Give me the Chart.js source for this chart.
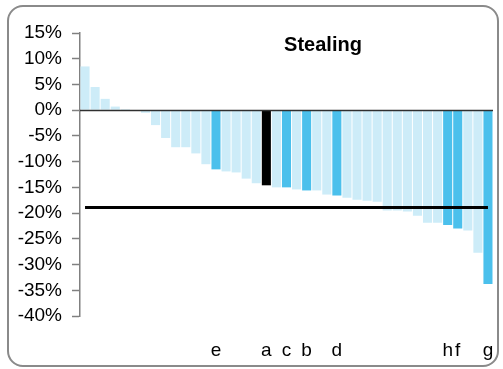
<!DOCTYPE html>
<html>
<head>
<meta charset="utf-8">
<script src="https://cdn.jsdelivr.net/npm/chart.js@4/dist/chart.umd.min.js"></script>
<style>
  html, body { margin:0; padding:0; background:#fff; overflow:hidden; }
  #frame { position:absolute; left:7px; top:5px; width:492px; height:362px; box-sizing:border-box;
           border:2px solid #8a8a8a; border-radius:16px; }
  #chart { position:absolute; left:0; top:0; }
</style>
</head>
<body>
<div id="frame"></div>
<canvas id="chart" width="503" height="369"></canvas>
<script>
// category labels: only the highlighted bars carry a letter
var labels = ['','','','','','','','','','','','','','e','','','','','a','','c','','b','','',
              'd','','','','','','','','','','','h','f','','','g'];
// change in %, sorted descending
var values = [8.5, 4.5, 2.2, 0.7, 0.2, 0, -0.5, -2.9, -5.4, -7.2, -7.2, -8.4, -10.5, -11.5, -11.9,
              -12.1, -13.3, -14.2, -14.6, -15.0, -15.0, -15.4, -15.6, -15.6, -16.4, -16.6, -17.0,
              -17.4, -17.6, -17.8, -19.5, -19.5, -19.7, -20.5, -21.9, -21.9, -22.3, -23.0, -23.4,
              -27.7, -33.8];
var highlight = [13, 20, 22, 25, 36, 37, 40];
var marked = [18];
var average = -18.9;
var titleText = 'Stealing';

(function(){
  var LIGHT = '#cdecf8', DARK = '#4bc0ec', FONT = '"Liberation Sans", Arial, sans-serif';

  var colors = values.map(function(v, i){
    if (marked.indexOf(i) >= 0) return '#000000';
    if (highlight.indexOf(i) >= 0) return DARK;
    return LIGHT;
  });

  // zero line over the bars, and the title inside the plot area
  var overlay = {
    id: 'overlay',
    afterDatasetsDraw: function(chart){
      var ctx = chart.ctx, a = chart.chartArea;
      var y0 = Math.round(chart.scales.y.getPixelForValue(0)) + 0.5;
      ctx.save();
      ctx.strokeStyle = '#303030';
      ctx.lineWidth = 1.5;
      ctx.beginPath(); ctx.moveTo(a.left, y0); ctx.lineTo(a.right, y0); ctx.stroke();
      ctx.restore();
    },
    afterDraw: function(chart){
      var ctx = chart.ctx, a = chart.chartArea;
      ctx.save();
      ctx.font = 'bold 20px ' + FONT;
      ctx.fillStyle = '#000';
      ctx.textAlign = 'center';
      ctx.textBaseline = 'middle';
      ctx.fillText(titleText, a.left + 243, a.top + 12);
      ctx.restore();
    }
  };

  new Chart(document.getElementById('chart'), {
    type: 'bar',
    data: {
      // a blank first line drops the letters to the bottom of the frame
      labels: labels.map(function(l){ return ['', l]; }),
      datasets: [
        { type:'line', data: labels.map(function(){ return average; }), borderColor:'#000',
          borderWidth:3, pointRadius:0, fill:false },
        { data: values, backgroundColor: colors, barPercentage:0.9, categoryPercentage:1.0 }
      ]
    },
    options: {
      responsive: false,
      animation: false,
      devicePixelRatio: 1,
      layout: { padding: { left:0, right:10, top:33, bottom:0 } },
      plugins: { legend:{ display:false }, title:{ display:false }, tooltip:{ enabled:false } },
      scales: {
        x: {
          grid: { display:false, drawTicks:false },
          border: { display:false },
          ticks: { autoSkip:false, maxRotation:0, padding:1, color:'#000', font:{ family:FONT, size:19 } },
          afterFit: function(s){ s.height = 53; }
        },
        y: {
          min: -40, max: 15,
          grid: {
            drawOnChartArea: false,
            drawTicks: true, tickLength: 8, tickColor:'#808080', tickWidth: 1.5
          },
          border: { display:true, color:'#808080', width:1.5 },
          ticks: { stepSize:5, autoSkip:false, padding:10, color:'#000', font:{ family:FONT, size:19 },
                   callback: function(v){ return v + '%'; } },
          afterFit: function(s){ s.width = 80; }
        }
      }
    },
    plugins: [overlay]
  });
})();
</script>
</body>
</html>
